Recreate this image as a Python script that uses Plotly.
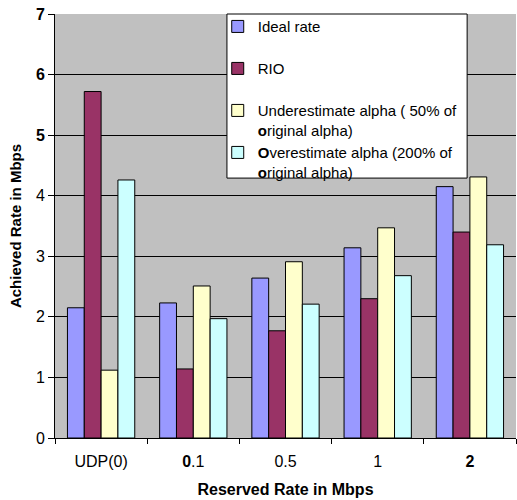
import plotly.graph_objects as go

categories = ["UDP(0)", "0.1", "0.5", "1", "2"]
ideal_rate = [2.15, 2.23, 2.64, 3.14, 4.15]
rio = [5.72, 1.14, 1.77, 2.30, 3.40]
under_alpha = [1.12, 2.51, 2.91, 3.47, 4.31]
over_alpha = [4.26, 1.97, 2.21, 2.68, 3.19]

series_names = [
    "Ideal rate<br> ",
    "RIO<br> ",
    "Underestimate alpha ( 50% of<br><b>o</b>riginal alpha)",
    "<b>O</b>verestimate alpha (200% of<br><b>o</b>riginal alpha)",
]
series_values = [ideal_rate, rio, under_alpha, over_alpha]
series_colors = ["#9999FF", "#993366", "#FFFFCC", "#CCFFFF"]

y_ticks = [0, 1, 2, 3, 4, 5, 6, 7]
y_tick_text = ["0", "1", "2", "3", "4", "<b>5</b>", "<b>6</b>", "<b>7</b>"]
x_tick_text = ["UDP(0)", "<b>0</b>.1", "0.5", "1", "<b>2</b>"]

FONT = "Arial, Liberation Sans, sans-serif"

fig = go.Figure()
for name, vals, color in zip(series_names, series_values, series_colors):
    fig.add_trace(go.Bar(
        x=categories, y=vals, name=name,
        marker=dict(color=color, line=dict(color="black", width=1)),
        legendgroup=name,
    ))

# white framed panel behind the legend entries
fig.add_shape(
    type="rect", xref="paper", yref="paper",
    x0=0.373, x1=0.894, y0=0.613, y1=1.0,
    fillcolor="white", line=dict(color="black", width=1), layer="above",
)

fig.update_layout(
    width=517, height=500,
    margin=dict(l=55, r=1, t=14, b=62),
    paper_bgcolor="white",
    plot_bgcolor="#C0C0C0",
    barmode="group",
    bargap=0.27,
    bargroupgap=0,
    font=dict(family=FONT, size=16, color="black"),
    legend=dict(
        x=0.353, y=1.009, xanchor="left", yanchor="top",
        bgcolor="rgba(0,0,0,0)", borderwidth=0,
        font=dict(family=FONT, size=15, color="black"),
        valign="top", tracegroupgap=0,
        itemclick=False,
    ),
    xaxis=dict(
        type="category",
        tickmode="array", tickvals=categories, ticktext=x_tick_text,
        showline=True, linecolor="black", linewidth=1,
        ticks="outside", tickson="boundaries", ticklen=5, tickcolor="black",
        ticklabelstandoff=9,
        showgrid=False,
        tickfont=dict(size=16),
        title=dict(text="<b>Reserved Rate in Mbps</b>", font=dict(size=16), standoff=14),
    ),
    yaxis=dict(
        range=[0, 7],
        tickmode="array", tickvals=y_ticks, ticktext=y_tick_text,
        showline=True, linecolor="black", linewidth=1,
        ticks="outside", ticklen=6, tickcolor="black",
        showgrid=True, gridcolor="black", gridwidth=1,
        zeroline=False,
        tickfont=dict(size=16),
        title=dict(text="<b>Achieved Rate in Mbps</b>", font=dict(size=15), standoff=10),
    ),
)

fig.write_html("out.html")
